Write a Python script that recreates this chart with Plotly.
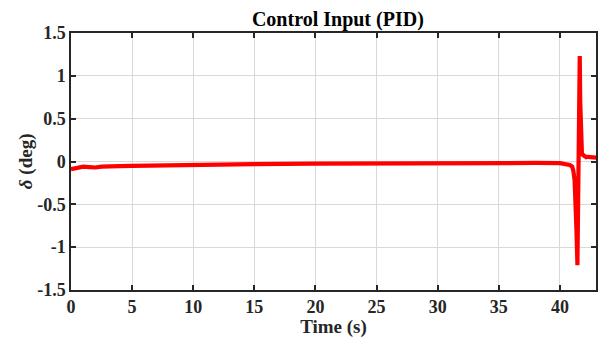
import plotly.graph_objects as go

# Time samples (s) and control input delta (deg)
time_s = [0, 0.5, 1.0, 1.5, 2.0, 2.5, 3.0, 4.0, 5.0, 7.0, 10.0, 15.0, 20.0, 25.0, 30.0, 35.0, 38.0,
          40.0, 40.5, 40.8, 41.0, 41.1, 41.2, 41.28, 41.35, 41.43, 41.48, 41.53, 41.58, 41.62,
          41.66, 41.72, 41.8, 41.9, 42.0, 42.15, 42.3, 42.6, 42.9, 43.0]
delta_deg = [-0.09, -0.075, -0.06, -0.065, -0.07, -0.06, -0.055, -0.055, -0.05, -0.045, -0.037,
             -0.03, -0.025, -0.02, -0.017, -0.016, -0.017,
             -0.02, -0.025, -0.04, -0.06, -0.11, -0.22, -0.45, -0.8, -1.21, -0.7, 0.2, 1.0, 1.23,
             0.7, 0.2, 0.09, 0.075, 0.06, 0.05, 0.055, 0.055, 0.045, 0.045]

x_ticks = [0, 5, 10, 15, 20, 25, 30, 35, 40]
y_ticks = [-1.5, -1, -0.5, 0, 0.5, 1, 1.5]
y_tick_text = ["-1.5", "-1", "-0.5", "0", "0.5", "1", "1.5"]

font_family = "Liberation Serif"

fig = go.Figure()
fig.add_trace(go.Scatter(x=time_s, y=delta_deg, mode="lines",
                         line=dict(color="#ff0000", width=4.2), showlegend=False))

axis_common = dict(showline=True, linecolor="#262626", linewidth=1.5, mirror="ticks",
                   ticks="inside", ticklen=5, tickwidth=1.5, tickcolor="#262626",
                   showgrid=True, gridcolor="#d9d9d9", gridwidth=1, zeroline=False,
                   tickfont=dict(family=font_family, size=18, color="#262626", weight="bold"))

fig.update_xaxes(range=[0, 42.95], tickvals=x_ticks,
                 title=dict(text="Time (s)", font=dict(family=font_family, size=19, color="#262626",
                                                       weight="bold"),
                            standoff=3),
                 **axis_common)
fig.update_yaxes(range=[-1.5, 1.5], tickvals=y_ticks, ticktext=y_tick_text, **axis_common)

fig.add_annotation(text="<i>δ</i> (deg)", xref="paper", yref="paper",
                   x=-(71 - 25.5) / 527, y=0.5, xanchor="center", yanchor="middle",
                   textangle=-90, showarrow=False,
                   font=dict(family=font_family, size=19, color="#262626", weight="bold"))

fig.update_layout(
    width=598, height=338,
    margin=dict(l=71, r=0, t=33, b=48),
    paper_bgcolor="white", plot_bgcolor="white",
    title=dict(text="Control Input (PID)", x=0.565, xanchor="center", y=0.965, yanchor="top",
               font=dict(family=font_family, size=20, color="#000000", weight="bold")),
)

fig.write_html("out.html")
